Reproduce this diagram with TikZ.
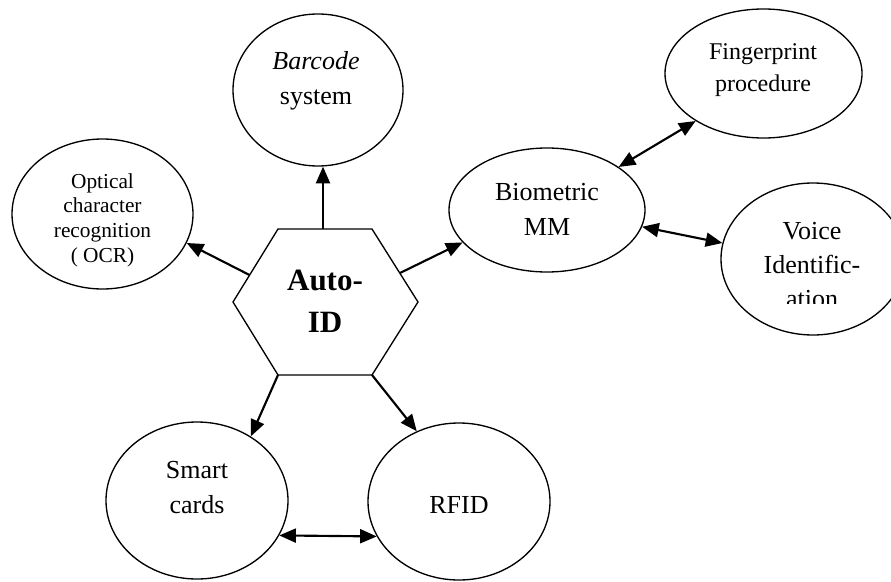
\documentclass[tikz,border=0pt]{standalone}
\usepackage{fontspec}
\setmainfont{Liberation Serif}
\usetikzlibrary{arrows.meta,shapes.geometric}
\begin{document}
\begin{tikzpicture}[x=0.75pt,y=-0.75pt,
  oval/.style 2 args={draw, ellipse, line width=1pt, inner sep=0pt,
    minimum width=#1*0.75pt, minimum height=#2*0.75pt},
  % multi-line labels: the base anchor sits on the last line
  lbl/.style={anchor=base, align=center, inner sep=0pt,
    font=\fontsize{19.5}{26.25}\selectfont},
  tip/.tip={Triangle[length=12.5pt,width=10.5pt]},
  link/.style={line width=1.6pt, -tip},
  both/.style={line width=1.6pt, tip-tip}]
\useasboundingbox (0,0) rectangle (891,581);

% ---- central hexagon ----
\coordinate (hA) at (278,229);
\coordinate (hB) at (372,229);
\coordinate (hC) at (418,302);
\coordinate (hD) at (372,375);
\coordinate (hE) at (278,375);
\coordinate (hF) at (233,302);
\draw[line width=1pt, line join=miter] (hA) -- (hB) -- (hC) -- (hD) -- (hE) -- (hF) -- cycle;
\node[lbl, font=\bfseries\fontsize{23.25}{31.5}\selectfont] (auto) at (325,332) {Auto-\\ID};
\coordinate (hexT) at (323,229);
\coordinate (hexL) at (249.5,275);
\coordinate (hexR) at (400,273);

% ---- surrounding ellipses ----
\node[oval={170}{152}] (barcode) at (318,90) {};
\node[lbl] (barcodetxt) at (316,105) {\textit{Barcode}\\system};

\node[oval={181}{150}] (ocr) at (102.5,214) {};
\node[lbl, font=\fontsize{16}{18.4}\selectfont] (ocrtxt) at (102.5,262)
  {Optical\\character\\recognition\\( OCR)};

\node[oval={196}{124}] (bio) at (547,210) {};
\node[lbl] (biotxt) at (547,235) {Biometric\\MM};

\node[oval={197}{129}] (finger) at (763.5,73.5) {};
\node[lbl, font=\fontsize{18}{24}\selectfont] (fingertxt) at (763,92)
  {Fingerprint\\procedure};

\node[oval={184}{152}] (voice) at (813,259) {};
% the last line of this label is cut off by its text frame
\begin{scope}
  \clip (700,180) rectangle (891,303.5);
  \node[lbl, font=\fontsize{19.5}{25.5}\selectfont] (voicetxt) at (812,307)
    {Voice\\Identific-\\ation};
\end{scope}

\node[oval={182}{157}] (smart) at (197,500.5) {};
\node[lbl] (smarttxt) at (197,513) {Smart\\cards};

\node[oval={182}{157}] (rfid) at (459,501.5) {};
\node[lbl] (rfidtxt) at (459,513) {RFID};

% ---- connectors ----
\draw[link] (hexT) -- (hexT |- barcode.south);
\draw[link] (hexL) -- (ocr.-19);
\draw[link] (hexR) -- (bio.201);
\draw[link] (hE) -- (smart.50);
\draw[link] (hD) -- (rfid.121);
\draw[both] (smart.-23) -- (rfid.203);
\draw[both] (bio.31) -- (finger.215);
\draw[both] (bio.-10) -- (voice.170);
\end{tikzpicture}
\end{document}
